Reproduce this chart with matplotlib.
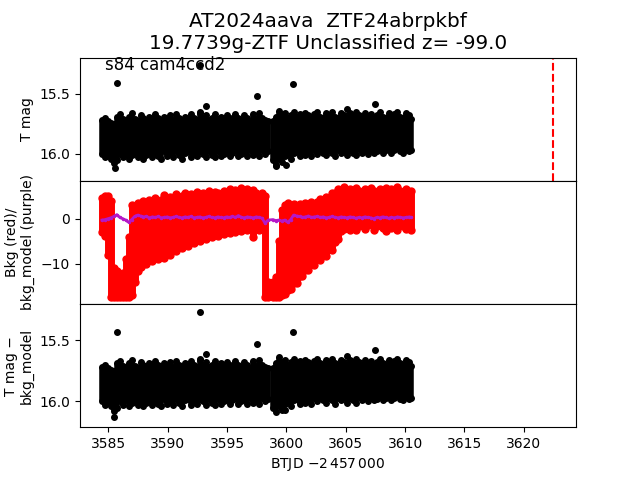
import matplotlib
matplotlib.use("Agg")
import matplotlib.pyplot as plt

# sampled times (BTJD - 2457000), two orbits with a gap
time = [
    3584.45, 3584.70, 3584.95, 3585.20, 3585.45, 3585.70, 3585.95, 3586.20,
    3586.45, 3586.70, 3586.95, 3587.20, 3587.45, 3587.70, 3587.95, 3588.20,
    3588.45, 3588.70, 3588.95, 3589.20, 3589.45, 3589.70, 3589.95, 3590.20,
    3590.45, 3590.70, 3590.95, 3591.20, 3591.45, 3591.70, 3591.95, 3592.20,
    3592.45, 3592.70, 3592.95, 3593.20, 3593.45, 3593.70, 3593.95, 3594.20,
    3594.45, 3594.70, 3594.95, 3595.20, 3595.45, 3595.70, 3595.95, 3596.20,
    3596.45, 3596.70, 3596.95, 3597.20, 3597.45, 3597.70, 3597.95, 3598.20,
    3598.45,
    3598.85, 3599.10, 3599.35, 3599.60, 3599.85, 3600.10, 3600.35, 3600.60,
    3600.85, 3601.10, 3601.35, 3601.60, 3601.85, 3602.10, 3602.35, 3602.60,
    3602.85, 3603.10, 3603.35, 3603.60, 3603.85, 3604.10, 3604.35, 3604.60,
    3604.85, 3605.10, 3605.35, 3605.60, 3605.85, 3606.10, 3606.35, 3606.60,
    3606.85, 3607.10, 3607.35, 3607.60, 3607.85, 3608.10, 3608.35, 3608.60,
    3608.85, 3609.10, 3609.35, 3609.60, 3609.85, 3610.10, 3610.35, 3610.50,
]

# bright / faint envelope of the T mag scatter at each time
mag_top = [
    15.72, 15.70, 15.73, 15.74, 15.75, 15.69, 15.67, 15.71,
    15.72, 15.69, 15.66, 15.71, 15.73, 15.68, 15.70, 15.72,
    15.69, 15.71, 15.67, 15.70, 15.73, 15.69, 15.71, 15.68,
    15.72, 15.67, 15.70, 15.72, 15.69, 15.71, 15.67, 15.70,
    15.72, 15.66, 15.70, 15.68, 15.72, 15.70, 15.67, 15.71,
    15.69, 15.72, 15.68, 15.70, 15.73, 15.67, 15.70, 15.72,
    15.68, 15.70, 15.73, 15.67, 15.71, 15.66, 15.70, 15.72,
    15.73,
    15.73, 15.69, 15.64, 15.68, 15.66, 15.70, 15.68, 15.65,
    15.69, 15.67, 15.70, 15.66, 15.68, 15.70, 15.67, 15.65,
    15.69, 15.70, 15.66, 15.68, 15.65, 15.69, 15.70, 15.66,
    15.68, 15.70, 15.66, 15.69, 15.65, 15.68, 15.70, 15.66,
    15.69, 15.67, 15.70, 15.68, 15.65, 15.69, 15.70, 15.66,
    15.68, 15.67, 15.65, 15.69, 15.70, 15.66, 15.68, 15.71,
]
mag_bot = [
    16.00, 16.03, 16.01, 16.04, 16.08, 16.05, 16.00, 16.03,
    15.99, 16.04, 16.01, 15.98, 16.03, 15.99, 16.04, 16.01,
    15.98, 16.03, 16.00, 16.02, 16.04, 15.98, 16.02, 15.99,
    16.03, 15.98, 16.01, 16.04, 15.99, 15.98, 16.03, 16.00,
    16.02, 15.98, 16.00, 16.03, 15.98, 16.01, 16.03, 15.98,
    16.02, 16.00, 15.98, 16.02, 15.99, 15.97, 16.02, 16.00,
    15.98, 16.02, 15.97, 16.01, 15.98, 16.02, 15.97, 16.00,
    15.98,
    16.05, 16.09, 16.04, 16.07, 16.02, 16.00, 16.04, 15.99,
    15.98, 16.02, 15.97, 16.01, 15.98, 16.02, 15.97, 16.00,
    15.96, 15.99, 16.01, 15.97, 15.99, 16.02, 15.97, 15.99,
    15.96, 16.01, 15.97, 15.99, 16.01, 15.96, 15.99, 15.97,
    16.00, 15.96, 15.99, 15.98, 15.95, 15.99, 15.97, 15.96,
    15.99, 15.97, 15.95, 15.98, 15.99, 15.96, 15.98, 15.97,
]

# background flux envelope (red) and background model (purple)
bkg_top = [
    4.5, 5.0, 5.0, 4.0, -11.0, -11.5, -13.0, -12.0,
    -9.0, -4.0, 3.0, 2.5, 3.5, 2.8, 4.0, 3.0,
    4.2, 3.4, 4.6, 3.6, 4.2, 5.2, 3.8, 4.8,
    4.2, 5.4, 4.4, 5.0, 5.8, 4.6, 5.4, 5.0,
    6.0, 5.2, 5.8, 5.0, 6.2, 5.4, 6.0, 5.6,
    5.2, 6.2, 5.8, 6.6, 5.6, 6.4, 5.8, 6.8,
    6.0, 6.6, 5.8, 6.4, 5.6, 5.2, 5.8, 5.0,
    -14.0,
    -14.0, -13.0, -5.0, 2.0, 3.0, 3.4, 2.6, 3.2,
    2.4, 3.2, 2.6, 3.4, 2.8, 3.8, 3.0, 3.8,
    4.4, 3.6, 4.8, 4.6, 5.6, 5.8, 6.6, 6.2,
    7.0, 5.8, 6.6, 6.0, 6.8, 6.2, 5.8, 6.6,
    6.0, 6.8, 6.2, 5.6, 6.6, 6.0, 6.8, 5.8,
    6.6, 6.2, 7.0, 6.2, 5.8, 6.6, 6.0, 6.2,
]
bkg_bot = [
    -3.0, -3.8, -8.0, -17.3, -17.3, -17.3, -17.3, -17.3,
    -17.3, -17.3, -17.0, -14.0, -11.5, -10.8, -9.4, -10.0,
    -8.8, -9.4, -8.4, -9.0, -7.8, -8.6, -7.4, -8.0,
    -6.4, -7.2, -5.8, -6.6, -5.2, -6.0, -4.6, -5.4,
    -4.2, -5.0, -3.6, -4.4, -3.2, -4.0, -2.8, -3.8,
    -2.6, -3.4, -2.4, -3.2, -2.0, -3.0, -2.2, -2.8,
    -1.8, -2.6, -1.6, -4.0, -1.8, -2.4, -1.6, -17.3,
    -17.3,
    -17.3, -17.3, -17.3, -17.0, -16.6, -15.8, -15.6, -14.2,
    -14.2, -12.8, -12.8, -11.4, -11.4, -10.0, -10.2, -8.8,
    -9.2, -7.8, -8.2, -6.8, -7.0, -5.2, -4.6, -2.8,
    -2.2, -1.4, -2.4, -1.2, -2.6, -1.6, -1.2, -2.2,
    -1.4, -1.0, -2.4, -1.6, -1.2, -2.0, -2.8, -1.4,
    -2.0, -1.2, -2.4, -1.0, -1.6, -2.2, -1.4, -2.6,
]
bkg_model = [
    -0.3, -0.2, 0.0, 0.2, 0.5, 0.9, 0.3, 0.0,
    -0.3, -0.8, -0.2, 0.5, 0.8, 0.6, 0.4, 0.5,
    0.2, 0.4, 0.3, 0.5, 0.2, 0.3, 0.4, 0.2,
    0.3, 0.5, 0.3, 0.2, 0.4, 0.3, 0.5, 0.2,
    0.3, 0.4, 0.2, 0.3, 0.5, 0.3, 0.2, 0.4,
    0.3, 0.2, 0.4, 0.3, 0.5, 0.3, 0.7, 0.3,
    0.2, 0.4, 0.3, 0.2, 0.4, 0.3, 0.1, -1.0,
    -0.3,
    -0.2, -0.4, -0.3, -0.5, -0.3, -0.8, -0.2, 0.8,
    0.6, 0.5, 0.3, 0.4, 0.6, 0.3, 0.4, 0.5,
    0.3, 0.4, 0.2, 0.3, 0.5, 0.3, 0.2, 0.4,
    0.3, 0.2, 0.4, 0.3, 0.1, 0.3, 0.2, 0.4,
    0.3, 0.2, 0.0, 0.3, 0.2, 0.4, 0.3, 0.1,
    0.3, 0.2, 0.4, 0.3, 0.2, 0.3, 0.4, 0.3,
]

# isolated points outside the main band
out_t = [3585.70, 3592.71, 3593.22, 3592.71, 3597.48, 3600.51, 3605.12,
         3607.50, 3585.56, 3599.10, 3600.00]
out_mag = [15.41, 15.26, 15.60, 15.65, 15.52, 15.42, 15.63,
           15.58, 16.12, 16.10, 16.09]
diff_out_t = [3585.70, 3592.71, 3593.22, 3592.71, 3597.48, 3600.51, 3605.12,
              3607.50, 3585.47, 3599.90]
diff_out_mag = [15.43, 15.27, 15.61, 15.65, 15.53, 15.43, 15.63,
                15.58, 16.13, 16.07]

ztf_time = 3622.5

fig, (ax1, ax2, ax3) = plt.subplots(3, 1, sharex=True, figsize=(6.4, 4.8))
plt.subplots_adjust(hspace=0)

# top: T mag
ax1.vlines(time, mag_top, mag_bot, color="k", lw=4)
ax1.plot(time, mag_top, "ko", ms=4)
ax1.plot(time, mag_bot, "ko", ms=4)
ax1.plot(out_t, out_mag, "ko", ms=4)
ax1.axvline(ztf_time, color="r", ls="--", lw=1.5)
ax1.set_ylim(16.225, 15.197)
ax1.set_yticks([15.5, 16.0])
ax1.set_ylabel("T mag")
ax1.text(0.05, 0.90, "s84 cam4ccd2", transform=ax1.transAxes, fontsize=12)
ax1.set_title("AT2024aava  ZTF24abrpkbf\n19.7739g-ZTF Unclassified z= -99.0",
              fontsize="x-large")

# middle: background
ax2.vlines(time, bkg_bot, bkg_top, color="r", lw=5)
ax2.plot(time, bkg_top, "ro", ms=5)
ax2.plot(time, bkg_bot, "ro", ms=5)
ax2.plot(time, bkg_model, color="#b418c8", lw=2, marker=".", ms=3)
ax2.set_ylim(-18.9, 8.4)
ax2.set_yticks([-10, 0])
ax2.set_ylabel("Bkg (red)/\nbkg_model (purple)")

# bottom: T mag - bkg_model
ax3.vlines(time, mag_top, mag_bot, color="k", lw=4)
ax3.plot(time, mag_top, "ko", ms=4)
ax3.plot(time, mag_bot, "ko", ms=4)
ax3.plot(diff_out_t, diff_out_mag, "ko", ms=4)
ax3.set_ylim(16.21, 15.205)
ax3.set_yticks([15.5, 16.0])
ax3.set_ylabel("T mag \u2212\nbkg_model")

ax3.set_xlim(3582.6, 3624.4)
ax3.set_xticks([3585, 3590, 3595, 3600, 3605, 3610, 3615, 3620])
ax3.set_xlabel(r"BTJD $-2\,457\,000$")

plt.savefig("out.png", dpi=100)
